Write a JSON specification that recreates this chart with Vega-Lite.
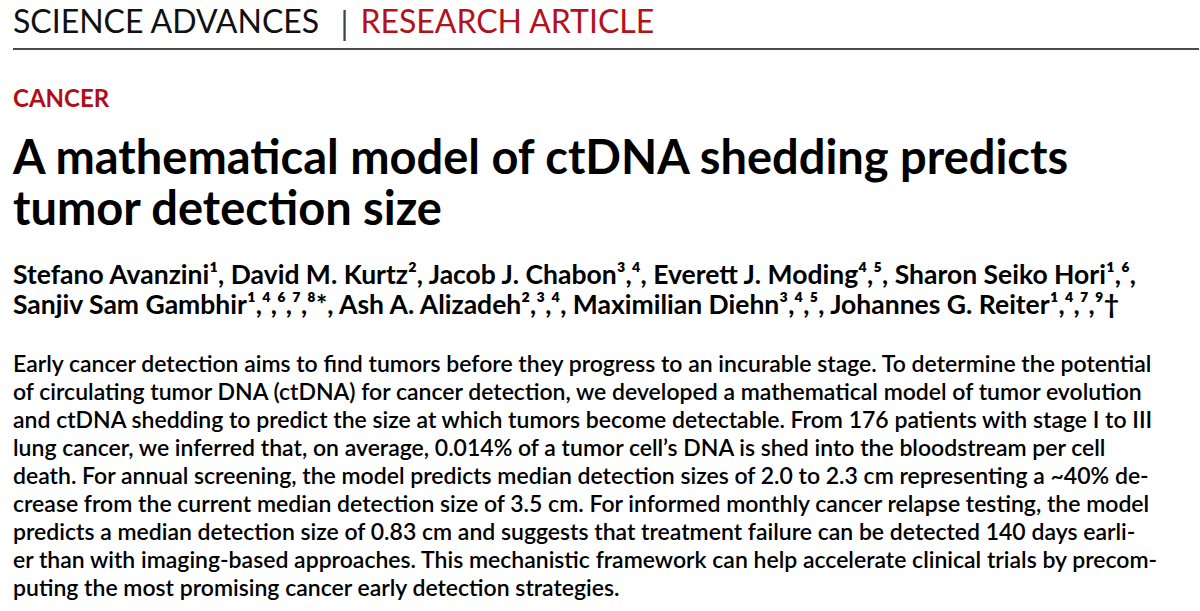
{
  "$schema": "https://vega.github.io/schema/vega-lite/v6.json",
  "width": 1200,
  "height": 611,
  "autosize": {"type": "fit", "contains": "padding"},
  "padding": {"left": 12, "top": 0, "right": 0, "bottom": 0},
  "background": "#ffffff",
  "config": {"view": {"stroke": null}},
  "datasets": {
    "page": [
      {"block": "journal", "line": 1, "text": "SCIENCE ADVANCES"},
      {"block": "bar", "line": 1, "text": "|"},
      {"block": "type", "line": 1, "text": "RESEARCH ARTICLE"},
      {"block": "section", "line": 1, "text": "CANCER"},
      {"block": "title", "line": 1, "text": "A mathematical model of ctDNA shedding predicts"},
      {"block": "title", "line": 2, "text": "tumor detection size"},
      {"block": "authors", "line": 1, "text": "Stefano Avanzini\u00b9, David M. Kurtz\u00b2, Jacob J. Chabon\u00b3,\u2074, Everett J. Moding\u2074,\u2075, Sharon Seiko Hori\u00b9,\u2076,"},
      {"block": "authors", "line": 2, "text": "Sanjiv Sam Gambhir\u00b9,\u2074,\u2076,\u2077,\u2078*, Ash A. Alizadeh\u00b2,\u00b3,\u2074, Maximilian Diehn\u00b3,\u2074,\u2075, Johannes G. Reiter\u00b9,\u2074,\u2077,\u2079\u2020"},
      {"block": "abstract", "line": 1, "text": "Early cancer detection aims to find tumors before they progress to an incurable stage. To determine the potential"},
      {"block": "abstract", "line": 2, "text": "of circulating tumor DNA (ctDNA) for cancer detection, we developed a mathematical model of tumor evolution"},
      {"block": "abstract", "line": 3, "text": "and ctDNA shedding to predict the size at which tumors become detectable. From 176 patients with stage I to III"},
      {"block": "abstract", "line": 4, "text": "lung cancer, we inferred that, on average, 0.014% of a tumor cell\u2019s DNA is shed into the bloodstream per cell"},
      {"block": "abstract", "line": 5, "text": "death. For annual screening, the model predicts median detection sizes of 2.0 to 2.3 cm representing a ~40% de-"},
      {"block": "abstract", "line": 6, "text": "crease from the current median detection size of 3.5 cm. For informed monthly cancer relapse testing, the model"},
      {"block": "abstract", "line": 7, "text": "predicts a median detection size of 0.83 cm and suggests that treatment failure can be detected 140 days earli-"},
      {"block": "abstract", "line": 8, "text": "er than with imaging-based approaches. This mechanistic framework can help accelerate clinical trials by precom-"},
      {"block": "abstract", "line": 9, "text": "puting the most promising cancer early detection strategies."}
    ],
    "rules": [
      {"block": "headerRule", "line": 1}
    ]
  },
  "layer": [
    {
      "data": {"name": "rules"},
      "mark": {"type": "rule", "color": "#4a4a4a", "strokeWidth": 2},
      "encoding": {
        "y": {"field": "line", "type": "ordinal", "scale": {"type": "point", "domain": [1], "range": [49, 49]}, "axis": null}
      }
    },
    {
      "data": {"name": "page"},
      "transform": [{"filter": "datum.block === 'journal'"}],
      "mark": {"type": "text", "align": "left", "baseline": "alphabetic", "font": "Lato", "fontSize": 32, "fontWeight": "normal", "color": "#111111"},
      "encoding": {
        "x": {"datum": 0, "type": "quantitative", "scale": {"domain": [0, 1]}, "axis": null},
        "y": {"field": "line", "type": "ordinal", "scale": {"type": "point", "domain": [1], "range": [33, 33]}, "axis": null},
        "text": {"field": "text"}
      }
    },
    {
      "data": {"name": "page"},
      "transform": [{"filter": "datum.block === 'bar'"}],
      "mark": {"type": "text", "align": "center", "baseline": "alphabetic", "font": "Lato", "fontSize": 32, "fontWeight": "normal", "color": "#444444"},
      "encoding": {
        "x": {"datum": 0.2795, "type": "quantitative", "scale": {"domain": [0, 1]}, "axis": null},
        "y": {"field": "line", "type": "ordinal", "scale": {"type": "point", "domain": [1], "range": [35, 35]}, "axis": null},
        "text": {"field": "text"}
      }
    },
    {
      "data": {"name": "page"},
      "transform": [{"filter": "datum.block === 'type'"}],
      "mark": {"type": "text", "align": "left", "baseline": "alphabetic", "font": "Lato", "fontSize": 32, "fontWeight": "normal", "color": "#b3121b"},
      "encoding": {
        "x": {"datum": 0.2929, "type": "quantitative", "scale": {"domain": [0, 1]}, "axis": null},
        "y": {"field": "line", "type": "ordinal", "scale": {"type": "point", "domain": [1], "range": [33, 33]}, "axis": null},
        "text": {"field": "text"}
      }
    },
    {
      "data": {"name": "page"},
      "transform": [{"filter": "datum.block === 'section'"}],
      "mark": {"type": "text", "align": "left", "baseline": "alphabetic", "font": "Lato", "fontSize": 24, "fontWeight": "bold", "color": "#b00e14"},
      "encoding": {
        "x": {"datum": 0, "type": "quantitative", "scale": {"domain": [0, 1]}, "axis": null},
        "y": {"field": "line", "type": "ordinal", "scale": {"type": "point", "domain": [1], "range": [107, 107]}, "axis": null},
        "text": {"field": "text"}
      }
    },
    {
      "data": {"name": "page"},
      "transform": [{"filter": "datum.block === 'title'"}],
      "mark": {"type": "text", "align": "left", "baseline": "alphabetic", "font": "Lato", "fontSize": 47, "fontWeight": "bold", "color": "#000000"},
      "encoding": {
        "x": {"datum": 0, "type": "quantitative", "scale": {"domain": [0, 1]}, "axis": null},
        "y": {"field": "line", "type": "ordinal", "scale": {"type": "point", "domain": [1, 2], "range": [174, 225], "padding": 0}, "axis": null},
        "text": {"field": "text"}
      }
    },
    {
      "data": {"name": "page"},
      "transform": [{"filter": "datum.block === 'authors'"}],
      "mark": {"type": "text", "align": "left", "baseline": "alphabetic", "font": "Lato", "fontSize": 26.5, "fontWeight": "bold", "color": "#000000"},
      "encoding": {
        "x": {"datum": 0, "type": "quantitative", "scale": {"domain": [0, 1]}, "axis": null},
        "y": {"field": "line", "type": "ordinal", "scale": {"type": "point", "domain": [1, 2], "range": [284, 314], "padding": 0}, "axis": null},
        "text": {"field": "text"}
      }
    },
    {
      "data": {"name": "page"},
      "transform": [{"filter": "datum.block === 'abstract'"}],
      "mark": {"type": "text", "align": "left", "baseline": "alphabetic", "font": "Lato", "fontSize": 23, "fontWeight": 600, "color": "#000000"},
      "encoding": {
        "x": {"datum": 0, "type": "quantitative", "scale": {"domain": [0, 1]}, "axis": null},
        "y": {"field": "line", "type": "ordinal", "scale": {"type": "point", "domain": [1, 2, 3, 4, 5, 6, 7, 8, 9], "range": [372, 596], "padding": 0}, "axis": null},
        "text": {"field": "text"}
      }
    }
  ],
  "resolve": {"scale": {"y": "independent"}}
}
